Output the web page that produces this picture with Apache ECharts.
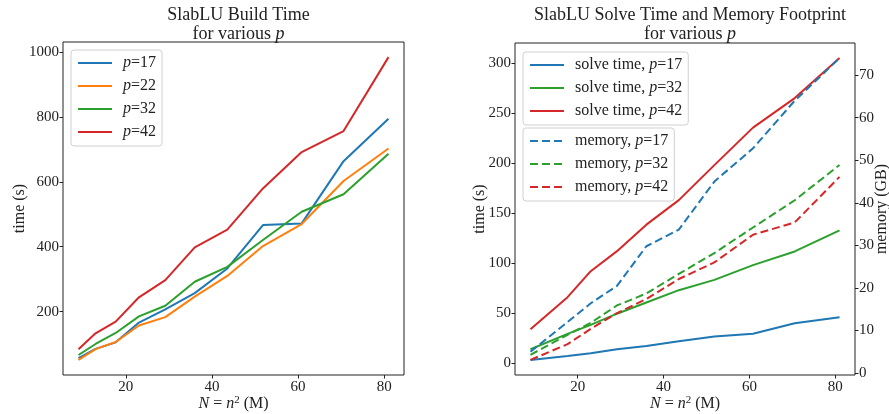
<!DOCTYPE html>
<html>
<head>
<meta charset="utf-8">
<script src="https://cdn.jsdelivr.net/npm/echarts@6/dist/echarts.min.js"></script>
<style>
  html, body { margin: 0; padding: 0; background: #fff; }
  #main { width: 889px; height: 414px; }
</style>
</head>
<body>
<div id="main"></div>
<script>
// N = n^2 in millions
var nBuild = [9, 12.96, 17.64, 23.04, 29.16, 36, 43.56, 51.84, 60.84, 70.56, 81];
var nSolve = [9, 17.64, 23.04, 29.16, 36, 43.56, 51.84, 60.84, 70.56, 81];

// build time (s)
var buildP17 = [56, 85, 105, 166, 207, 257, 333, 467, 472, 664, 795];
var buildP22 = [51, 84, 106, 157, 183, 246, 310, 402, 470, 603, 703];
var buildP32 = [66, 100, 134, 185, 218, 292, 338, 421, 508, 562, 687];
var buildP42 = [84, 133, 169, 244, 297, 398, 453, 580, 692, 757, 985];

// solve time (s)
var solveP17 = [3.3, 7.3, 10, 14, 17.3, 22, 26.7, 29.5, 40, 46];
var solveP32 = [14, 29.3, 38.3, 49.5, 60.7, 73, 83.3, 98, 111.7, 132.7];
var solveP42 = [34, 66, 92, 112, 138.5, 163, 198, 235.5, 265, 305];

// memory (GB)
var memP17 = [5, 12, 16.4, 20.5, 29.8, 33.7, 45, 52.8, 64, 74];
var memP32 = [4.3, 9, 11.8, 15.9, 18.7, 23.3, 28.2, 34.2, 40.6, 48.9];
var memP42 = [3.1, 6.8, 10.4, 14.1, 17.4, 22.1, 26, 32.5, 35.4, 46.1];

// tick labels
var xTicks = [20, 40, 60, 80];
var buildTicks = [200, 400, 600, 800, 1000];
var timeTicks = [0, 50, 100, 150, 200, 250, 300];
var memTicks = [0, 10, 20, 30, 40, 50, 60, 70];

var FONT = '"Liberation Serif", "DejaVu Serif", serif';
var INK = '#222';
var BLUE = '#1f77b4', ORANGE = '#ff7f0e', GREEN = '#2ca02c', RED = '#d62728';

// matplotlib style 5% margins
function extent(arrs) {
  var all = [].concat.apply([], arrs);
  var lo = Math.min.apply(null, all), hi = Math.max.apply(null, all);
  var m = (hi - lo) * 0.05;
  return [lo - m, hi + m];
}
var xExt = extent([nBuild]);
var buildExt = extent([buildP17, buildP22, buildP32, buildP42]);
var timeExt = extent([solveP17, solveP32, solveP42]);
var memExt = extent([memP17, memP32, memP42]);

function pairs(xs, ys) {
  return xs.map(function (x, i) { return [x, ys[i]]; });
}

var rich = {
  r: { fontFamily: FONT, fontSize: 16, color: INK, lineHeight: 18 },
  i: { fontFamily: FONT, fontSize: 16, color: INK, fontStyle: 'italic', lineHeight: 18 },
  s: { fontFamily: FONT, fontSize: 11, color: INK, verticalAlign: 'top', lineHeight: 12 }
};

function legendFmt(name) {
  var k = name.indexOf('p=');
  var head = k > 0 ? '{r|' + name.slice(0, k) + '}' : '';
  return head + '{i|p}{r|=' + name.slice(k + 2) + '}';
}

function legend(left, top, names) {
  return {
    orient: 'vertical', left: left, top: top,
    data: names,
    itemWidth: 34, itemHeight: 14, itemGap: 7,
    padding: [5, 6, 6, 6],
    borderColor: '#d0d0d0', borderWidth: 1, borderRadius: 3,
    backgroundColor: 'rgba(255,255,255,0.8)',
    selectedMode: false,
    itemStyle: { opacity: 0, borderWidth: 0 },
    formatter: legendFmt,
    textStyle: { fontFamily: FONT, fontSize: 16, color: INK, padding: [0, 0, 0, 6], rich: rich }
  };
}

function valueAxis(extra) {
  var a = {
    type: 'value',
    axisLine: { show: false, onZero: false },
    splitLine: { show: false },
    axisTick: { show: true, length: 3.5, lineStyle: { color: INK, width: 1 } },
    axisLabel: { fontFamily: FONT, fontSize: 15, color: INK, margin: 4,
      formatter: function (v) { return String(v); } },
    nameTextStyle: { fontFamily: FONT, fontSize: 16, color: INK, rich: rich },
    nameLocation: 'middle',
    nameMoveOverlap: false
  };
  for (var k in extra) {
    if (k === 'ticks') {
      a.axisTick.customValues = extra.ticks;
      a.axisLabel.customValues = extra.ticks;
    } else if (k === 'labelMargin') {
      a.axisLabel.margin = extra.labelMargin;
    } else a[k] = extra[k];
  }
  return a;
}

function line(name, xi, yi, xs, ys, color, dashed) {
  return {
    name: name, type: 'line', xAxisIndex: xi, yAxisIndex: yi,
    data: pairs(xs, ys), symbol: 'none', color: color,
    lineStyle: { width: 2, color: color, type: dashed ? [8, 4] : 'solid' },
    animation: false
  };
}

var titleRich = {
  r: { fontFamily: FONT, fontSize: 18, color: INK, fontWeight: 'normal', lineHeight: 19 },
  i: { fontFamily: FONT, fontSize: 18, color: INK, fontWeight: 'normal', fontStyle: 'italic', lineHeight: 19 }
};

var chart = echarts.init(document.getElementById('main'), null, { renderer: 'canvas' });

var option = {
  backgroundColor: '#ffffff',
  animation: false,
  title: [{
    text: '{r|SlabLU Build Time}\n{r|for various }{i|p}',
    left: 233.5, top: 1, textAlign: 'center',
    textStyle: { fontWeight: 'normal', rich: titleRich }
  }, {
    text: '{r|SlabLU Solve Time and Memory Footprint}\n{r|for various }{i|p}',
    left: 685, top: 1, textAlign: 'center',
    textStyle: { fontWeight: 'normal', rich: titleRich }
  }],
  legend: [
    legend(71, 50, ['p=17', 'p=22', 'p=32', 'p=42']),
    legend(523, 52, ['solve time, p=17', 'solve time, p=32', 'solve time, p=42']),
    legend(523, 128, ['memory, p=17', 'memory, p=32', 'memory, p=42'])
  ],
  grid: [
    { left: 63, top: 42, width: 341, height: 333, show: true, borderColor: INK, borderWidth: 1,
      outerBoundsMode: 'none', containLabel: false },
    { left: 515, top: 43, width: 340, height: 332, show: true, borderColor: INK, borderWidth: 1,
      outerBoundsMode: 'none', containLabel: false }
  ],
  xAxis: [
    valueAxis({ gridIndex: 0, min: xExt[0], max: xExt[1], ticks: xTicks, labelMargin: 5,
      name: '{i|N} = {i|n}{s|2} (M)', nameGap: 20 }),
    valueAxis({ gridIndex: 1, min: xExt[0], max: xExt[1], ticks: xTicks, labelMargin: 5,
      name: '{i|N} = {i|n}{s|2} (M)', nameGap: 20 })
  ],
  yAxis: [
    valueAxis({ gridIndex: 0, min: buildExt[0], max: buildExt[1], ticks: buildTicks,
      name: 'time (s)', nameGap: 35, nameRotate: 90 }),
    valueAxis({ gridIndex: 1, min: timeExt[0], max: timeExt[1], ticks: timeTicks,
      name: 'time (s)', nameGap: 27, nameRotate: 90 }),
    valueAxis({ gridIndex: 1, position: 'right', min: memExt[0], max: memExt[1], ticks: memTicks,
      name: 'memory (GB)', nameGap: 19, nameRotate: 90 })
  ],
  series: [
    line('p=17', 0, 0, nBuild, buildP17, BLUE),
    line('p=22', 0, 0, nBuild, buildP22, ORANGE),
    line('p=32', 0, 0, nBuild, buildP32, GREEN),
    line('p=42', 0, 0, nBuild, buildP42, RED),
    line('solve time, p=17', 1, 1, nSolve, solveP17, BLUE),
    line('solve time, p=32', 1, 1, nSolve, solveP32, GREEN),
    line('solve time, p=42', 1, 1, nSolve, solveP42, RED),
    line('memory, p=17', 1, 2, nSolve, memP17, BLUE, true),
    line('memory, p=32', 1, 2, nSolve, memP32, GREEN, true),
    line('memory, p=42', 1, 2, nSolve, memP42, RED, true)
  ]
};

chart.setOption(option);
</script>
</body>
</html>
